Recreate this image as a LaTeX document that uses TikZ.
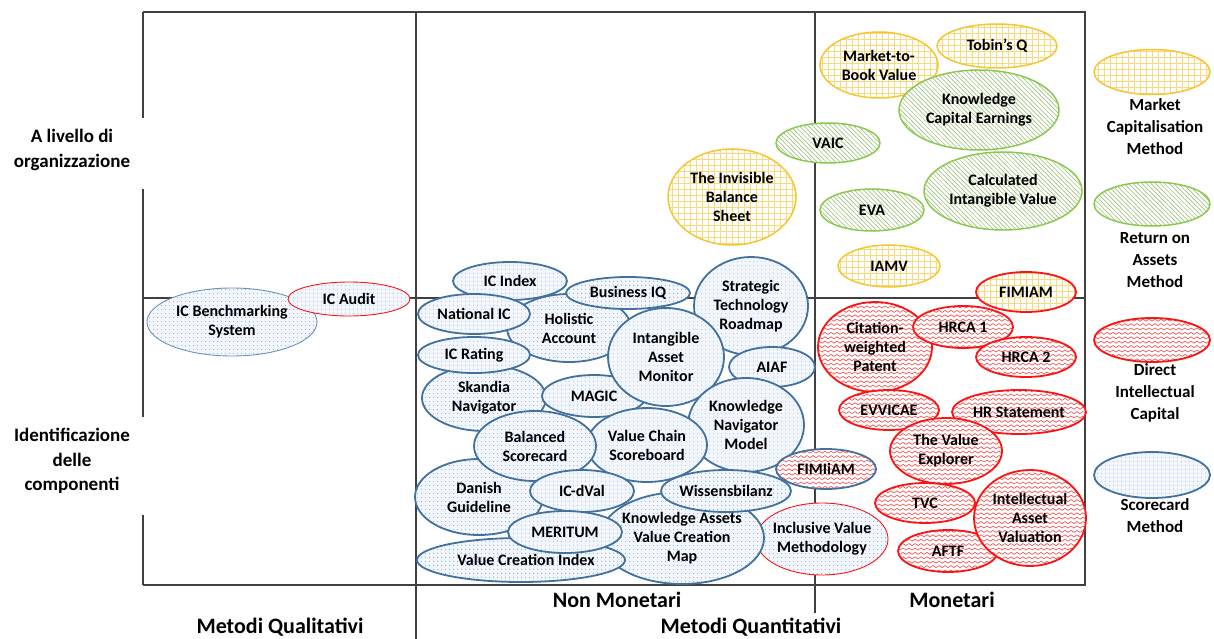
\documentclass[tikz,border=0pt]{standalone}
\usepackage{fontspec}
\setmainfont{Carlito}
\usetikzlibrary{shapes.geometric,patterns,patterns.meta,calc}

\definecolor{frame}{RGB}{64,64,64}
\definecolor{mcline}{RGB}{244,198,52}
\definecolor{mcpat}{RGB}{248,218,120}
\definecolor{roaline}{RGB}{140,200,80}
\definecolor{roapat}{RGB}{140,185,100}
\definecolor{dicline}{RGB}{250,20,20}
\definecolor{dicpat}{RGB}{242,80,80}
\definecolor{scline}{RGB}{65,113,156}
\definecolor{scthin}{RGB}{110,145,190}
\definecolor{scpat}{RGB}{90,145,230}
\definecolor{scback}{RGB}{243,247,253}

% zigzag fill used by the "Direct Intellectual Capital" family
\pgfdeclarepatternformonly{zigzag}{\pgfqpoint{-1pt}{-1pt}}{\pgfqpoint{7pt}{6pt}}{\pgfqpoint{6pt}{4.4pt}}{%
  \pgfsetlinewidth{0.65pt}%
  \pgfpathmoveto{\pgfqpoint{0pt}{1pt}}%
  \pgfpathlineto{\pgfqpoint{3pt}{3pt}}%
  \pgfpathlineto{\pgfqpoint{6pt}{1pt}}%
  \pgfusepath{stroke}}

% small dots (short strokes) used by the scorecard family
\pgfdeclarepatternformonly{specks}{\pgfqpoint{0pt}{0pt}}{\pgfqpoint{4pt}{4pt}}{\pgfqpoint{4pt}{4pt}}{%
  \pgfsetlinewidth{0.9pt}%
  \pgfpathmoveto{\pgfqpoint{1.55pt}{2pt}}%
  \pgfpathlineto{\pgfqpoint{2.45pt}{2pt}}%
  \pgfusepath{stroke}}

\tikzset{
  oval/.style={ellipse, inner sep=0pt, outer sep=0pt, preaction={fill=white}},
  mkt/.style={oval, draw=mcline, line width=1.5pt,
    pattern={Hatch[angle=0,distance=6pt,line width=0.5pt]}, pattern color=mcpat},
  roa/.style={oval, draw=roaline, line width=1.5pt,
    pattern={Lines[angle=-45,distance=3.2pt,line width=0.5pt]}, pattern color=roapat},
  dic/.style={oval, draw=dicline, line width=1.8pt, pattern=zigzag, pattern color=dicpat},
  sc/.style={ellipse, inner sep=0pt, outer sep=0pt, preaction={fill=scback},
    draw=scline, line width=1.8pt, pattern=specks, pattern color=scpat},
  txt/.style={font=\bfseries\fontsize{16}{19}\selectfont, align=center, inner sep=0pt, text=black},
  legtxt/.style={font=\bfseries\fontsize{17}{22}\selectfont, align=center, inner sep=0pt, text=black},
  rowtxt/.style={font=\bfseries\fontsize{19}{24.5}\selectfont, align=center, inner sep=0pt, text=black},
  axtxt/.style={font=\bfseries\fontsize{22}{26}\selectfont, align=center, inner sep=0pt, text=black},
  frameline/.style={draw=frame, line width=1.4pt},
}

\begin{document}
\begin{tikzpicture}[x=1pt,y=-1pt]
\useasboundingbox (0,0) rectangle (1214,639);

% ---------- frame ----------
\draw[frameline] (143,12) -- (1085,12) -- (1085,585) -- (143,585);
\draw[frameline] (143,12) -- (143,118);
\draw[frameline] (143,189) -- (143,417);
\draw[frameline] (143,515) -- (143,585);
\draw[frameline] (143,298) -- (1085,298);
\draw[frameline] (416,12) -- (416,639);
\draw[frameline] (815,12) -- (815,613);

% ---------- axis labels ----------
\node[rowtxt] (row1) at (72,150) {A livello di\\organizzazione};
\node[rowtxt] (row2) at (72,461) {Identificazione\\delle\\componenti};
\node[axtxt] (qual) at (280,627) {Metodi Qualitativi};
\node[axtxt] (nonmon) at (617,600) {Non Monetari};
\node[axtxt] (mon) at (952,600) {Monetari};
\node[axtxt] (quant) at (751,627) {Metodi Quantitativi};

% ---------- qualitative methods ----------
\node[sc, draw=scthin, line width=0.9pt, minimum width=170, minimum height=68] (icbs) at (232,322) {};
\node[txt] (icbs-t) at (icbs) {IC Benchmarking\\System};
\node[sc, draw=dicline, line width=0.9pt, minimum width=122, minimum height=34] (icaudit) at (349,299) {};
\node[txt] (icaudit-t) at (icaudit) {IC Audit};

% ---------- monetary, organisation level ----------
\node[mkt, minimum width=118, minimum height=66] (mtb) at (879,65) {};
\node[txt] (mtb-t) at (mtb) {Market-to-\\Book Value};
\node[mkt, minimum width=120, minimum height=44] (tobin) at (997,46) {};
\node[txt] (tobin-t) at (tobin) {Tobin’s Q};
\node[roa, minimum width=160, minimum height=80] (kce) at (979,110) {};
\node[txt] (kce-t) at (kce) {Knowledge\\Capital Earnings};
\node[mkt, minimum width=128, minimum height=96] (ibs) at (732,197) {};
\node[txt] (ibs-t) at (ibs) {The Invisible\\Balance\\Sheet};
\node[roa, minimum width=104, minimum height=40] (vaic) at (828,143) {};
\node[txt] (vaic-t) at (vaic) {VAIC};
\node[roa, minimum width=104, minimum height=42] (eva) at (872,210) {};
\node[txt] (eva-t) at (eva) {EVA};
\node[roa, minimum width=158, minimum height=78] (civ) at (1003,191) {};
\node[txt] (civ-t) at (civ) {Calculated\\Intangible Value};
\node[mkt, minimum width=102, minimum height=42] (iamv) at (889,266) {};
\node[txt] (iamv-t) at (iamv) {IAMV};
\node[mkt, draw=dicline, line width=1.8pt, minimum width=100, minimum height=40] (fimiam) at (1026,292) {};
\node[txt] (fimiam-t) at (fimiam) {FIMIAM};

% ---------- scorecard cluster ----------
\node[sc, minimum width=124, minimum height=68] (hol) at (569,328) {};
\node[txt] (hol-t) at (hol) {Holistic\\Account};
\node[sc, minimum width=114, minimum height=38] (icidx) at (510,281) {};
\node[txt] (icidx-t) at (icidx) {IC Index};
\node[sc, minimum width=112, minimum height=40] (natic) at (474,314) {};
\node[txt] (natic-t) at (natic) {National IC};
\node[sc, minimum width=124, minimum height=32] (biq) at (628,293) {};
\node[txt] (biq-t) at (biq) {Business IQ};
\node[sc, minimum width=124, minimum height=66] (skandia) at (484,398) {};
\node[txt] (skandia-t) at (skandia) {Skandia\\Navigator};
\node[sc, minimum width=112, minimum height=36] (icrat) at (474,355) {};
\node[txt] (icrat-t) at (icrat) {IC Rating};
\node[sc, minimum width=104, minimum height=42] (magic) at (594,396) {};
\node[txt] (magic-t) at (magic) {MAGIC};
\node[sc, minimum width=114, minimum height=98] (str) at (751,306) {};
\node[txt] (str-t) at (str) {Strategic\\Technology\\Roadmap};
\node[sc, minimum width=116, minimum height=98] (iam) at (666,357) {};
\node[txt] (iam-t) at (iam) {Intangible\\Asset\\Monitor};
\node[sc, minimum width=86, minimum height=40] (aiaf) at (772,367) {};
\node[txt] (aiaf-t) at (aiaf) {AIAF};
\node[sc, minimum width=116, minimum height=94] (knm) at (746,425) {};
\node[txt] (knm-t) at (knm) {Knowledge\\Navigator\\Model};
\node[sc, minimum width=120, minimum height=74] (vcs) at (647,445) {};
\node[txt] (vcs-t) at (vcs) {Value Chain\\Scoreboard};
\node[sc, minimum width=128, minimum height=76] (danish) at (479,497) {};
\node[txt] (danish-t) at (danish) {Danish\\Guideline};
\node[sc, minimum width=122, minimum height=70] (bsc) at (535,446) {};
\node[txt] (bsc-t) at (bsc) {Balanced\\Scorecard};
\node[sc, minimum width=104, minimum height=42] (icdval) at (582,491) {};
\node[txt] (icdval-t) at (icdval) {IC-dVal};
\node[sc, draw=dicline, line width=0.9pt, minimum width=132, minimum height=72] (ivm) at (822,539) {};
\node[txt] (ivm-t) at (ivm) {Inclusive Value\\Methodology};
\node[sc, minimum width=164, minimum height=92] (kavcm) at (682,538) {};
\node[txt] (kavcm-t) at (kavcm) {Knowledge Assets\\Value Creation\\Map};
\node[sc, minimum width=130, minimum height=42] (wiss) at (726,491) {};
\node[txt] (wiss-t) at (wiss) {Wissensbilanz};
\node[sc, minimum width=208, minimum height=44] (vci) at (521,560) {};
\node[txt] (vci-t) at ($(vci)+(5,0)$) {Value Creation Index};
\node[sc, minimum width=114, minimum height=42] (meritum) at (565,532) {};
\node[txt] (meritum-t) at (meritum) {MERITUM};
\node[dic, draw=scline, minimum width=100, minimum height=40] (fimiiam) at (826,469) {};
\node[txt] (fimiiam-t) at (fimiiam) {FIMIiAM};

% ---------- monetary, component level ----------
\node[dic, minimum width=114, minimum height=90] (cwp) at (875,347) {};
\node[txt] (cwp-t) at (cwp) {Citation-\\weighted\\Patent};
\node[dic, minimum width=100, minimum height=42] (hrca1) at (963,327) {};
\node[txt] (hrca1-t) at (hrca1) {HRCA 1};
\node[dic, minimum width=100, minimum height=40] (hrca2) at (1026,357) {};
\node[txt] (hrca2-t) at (hrca2) {HRCA 2};
\node[dic, minimum width=100, minimum height=40] (evvicae) at (889,410) {};
\node[txt] (evvicae-t) at (evvicae) {EVVICAE};
\node[dic, minimum width=134, minimum height=44] (hrst) at (1019,412) {};
\node[txt] (hrst-t) at (hrst) {HR Statement};
\node[dic, minimum width=112, minimum height=66] (tve) at (946,451) {};
\node[txt] (tve-t) at (tve) {The Value\\Explorer};
\node[dic, minimum width=100, minimum height=40] (tvc) at (925,503) {};
\node[txt] (tvc-t) at (tvc) {TVC};
\node[dic, minimum width=100, minimum height=42] (aftf) at (948,551) {};
\node[txt] (aftf-t) at (aftf) {AFTF};
\node[dic, minimum width=112, minimum height=96] (iav) at (1030,518) {};
\node[txt] (iav-t) at (iav) {Intellectual\\Asset\\Valuation};

% ---------- legend ----------
\node[mkt, minimum width=116, minimum height=45] (legmc) at (1152,72) {};
\node[legtxt] (legmc-t) at (1155,127) {Market\\Capitalisation\\Method};
\node[roa, minimum width=116, minimum height=44] (legroa) at (1152,204) {};
\node[legtxt] (legroa-t) at (1155,260) {Return on\\Assets\\Method};
\node[dic, minimum width=116, minimum height=44] (legdic) at (1152,340) {};
\node[legtxt] (legdic-t) at (1155,393) {Direct\\Intellectual\\Capital};
\node[sc, minimum width=116, minimum height=46] (legsc) at (1152,475) {};
\node[legtxt] (legsc-t) at (1155,516) {Scorecard\\Method};
\end{tikzpicture}
\end{document}
